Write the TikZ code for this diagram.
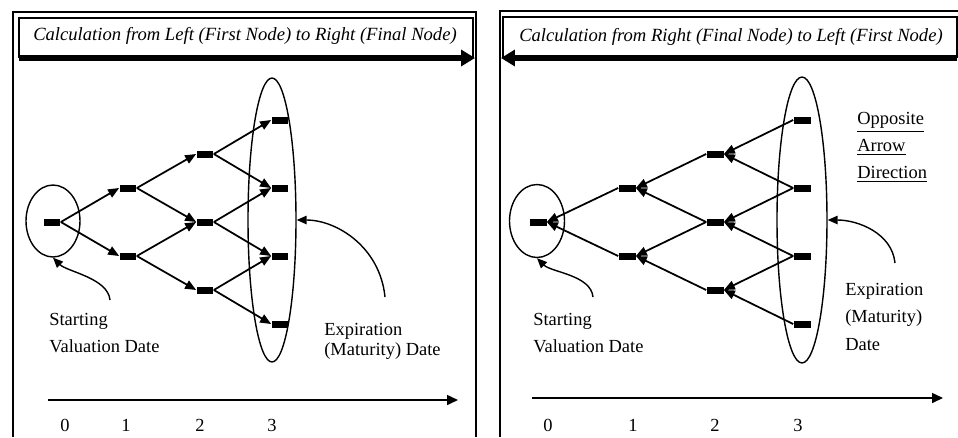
\documentclass[tikz,border=0pt]{standalone}
\usepackage{fontspec}
\setmainfont{Liberation Serif}
\usetikzlibrary{arrows.meta,positioning,shapes.geometric}

\tikzset{
    lattice/.style={fill=black, inner sep=0pt, minimum width=0.34cm, minimum height=0.14cm},
    branch/.style={line width=1pt, -{Triangle[length=2.2mm,width=1.8mm]}},
    pointer/.style={line width=0.8pt, -{Triangle[length=2.0mm,width=1.7mm]}},
    timeline/.style={line width=0.9pt, -{Triangle[length=2.2mm,width=2.0mm]}},
    flowarrow/.style={line width=3pt, -{Triangle[length=2.8mm,width=3.2mm]}},
    ring/.style={draw, ellipse, line width=0.8pt, inner sep=0pt},
    caption/.style={font=\fontsize{10.5pt}{#1}\selectfont, align=left, inner sep=0pt, anchor=north west},
    ticklabel/.style={font=\fontsize{10.5pt}{12pt}\selectfont, inner sep=0pt},
    headline/.style={font=\itshape\fontsize{10.6pt}{12pt}\selectfont, inner sep=0pt}
}

\begin{document}
\begin{tikzpicture}[x=0.02cm,y=-0.02cm]
    \useasboundingbox (0,0) rectangle (958,437);

    % frames and title boxes
    \draw[line width=1.2pt] (13,437) -- (13,12) -- (476,12) -- (476,437);
    \draw[line width=0.8pt] (19,58) -- (19,18) -- (473,18) -- (473,58);
    \draw[line width=1.2pt] (958,11) -- (500,11) -- (500,437);
    \draw[line width=0.8pt] (503,58) -- (503,17) -- (957,17) -- (957,58);

    \coordinate (lflow0) at (19,58);
    \coordinate (lflow1) at (475,58);
    \coordinate (rflow0) at (957,58);
    \coordinate (rflow1) at (501,58);
    \draw[flowarrow] (lflow0) -- (lflow1);
    \draw[flowarrow] (rflow0) -- (rflow1);

    \node[headline] (ltitle) at (245,36) {Calculation from Left (First Node) to Right (Final Node)};
    \node[headline] (rtitle) at (731,37) {Calculation from Right (Final Node) to Left (First Node)};

    % left tree
    \node[lattice] (l0)  at (52,222) {};
    \node[lattice] (l1u) at (128,188) {};
    \node[lattice] (l1d) at (128,256) {};
    \node[lattice] (l2u) at (205,154) {};
    \node[lattice] (l2m) at (205,222) {};
    \node[lattice] (l2d) at (205,290) {};
    \node[lattice] (l3a) at (280,120) {};
    \node[lattice] (l3b) at (280,188) {};
    \node[lattice] (l3c) at (280,256) {};
    \node[lattice] (l3d) at (280,324) {};

    \foreach \a/\b in {l0/l1u, l0/l1d, l1u/l2u, l1u/l2m, l1d/l2m, l1d/l2d,
                       l2u/l3a, l2u/l3b, l2m/l3b, l2m/l3c, l2d/l3c, l2d/l3d}
        \draw[branch] (\a.east) -- (\b.west);

    \node[ring, minimum width=1.08cm, minimum height=1.44cm] (lroot) at (53,221) {};
    \node[ring, minimum width=0.96cm, minimum height=5.68cm] (lexp) at (272,220) {};

    % right tree
    \node[lattice] (r0)  at (538,222) {};
    \node[lattice] (r1u) at (627,188) {};
    \node[lattice] (r1d) at (627,256) {};
    \node[lattice] (r2u) at (715,154) {};
    \node[lattice] (r2m) at (715,222) {};
    \node[lattice] (r2d) at (715,290) {};
    \node[lattice] (r3a) at (802,120) {};
    \node[lattice] (r3b) at (802,188) {};
    \node[lattice] (r3c) at (802,256) {};
    \node[lattice] (r3d) at (802,324) {};

    \foreach \a/\b in {r0/r1u, r0/r1d, r1u/r2u, r1u/r2m, r1d/r2m, r1d/r2d,
                       r2u/r3a, r2u/r3b, r2m/r3b, r2m/r3c, r2d/r3c, r2d/r3d}
        \draw[branch] (\b.west) -- (\a.east);

    \node[ring, minimum width=1.1cm, minimum height=1.46cm] (rroot) at (537,221) {};
    \node[ring, minimum width=1.0cm, minimum height=5.72cm] (rexp) at (802,220) {};

    % labels
    \node[caption=15.3pt] (lstart) at (49,313) {Starting\\Valuation Date};
    \node[caption=11.3pt] (lexptext) at (324,323) {Expiration\\(Maturity) Date};
    \node[caption=15.3pt] (rstart) at (533,313) {Starting\\Valuation Date};
    \node[caption=15.6pt] (rexptext) at (845,283) {Expiration\\(Maturity)\\Date};
    \node[caption=15.3pt] (rnote) at (857,112) {\underline{Opposite}\\\underline{Arrow}\\\underline{Direction}};

    % curved pointers
    \coordinate (lstartfoot) at (110,300);
    \coordinate (lexpfoot) at (385,297);
    \coordinate (rstartfoot) at (593,297);
    \coordinate (rexpfoot) at (895,263);
    \draw[pointer] (lstartfoot) .. controls +(-2,-22) and +(14,14) .. (lroot.south);
    \draw[pointer] (lexpfoot) .. controls +(-5,-50) and +(40,0) .. (lexp.east);
    \draw[pointer] (rstartfoot) .. controls +(-2,-22) and +(14,14) .. (rroot.south);
    \draw[pointer] (rexpfoot) .. controls +(-3,-30) and +(30,0) .. (rexp.east);

    % time axes
    \coordinate (laxis0) at (48,400);
    \coordinate (laxis1) at (458,400);
    \coordinate (raxis0) at (532,398);
    \coordinate (raxis1) at (943,398);
    \draw[timeline] (laxis0) -- (laxis1);
    \draw[timeline] (raxis0) -- (raxis1);

    \node[ticklabel] (lt0) at (65,425) {0};
    \node[ticklabel] (lt1) at (126,425) {1};
    \node[ticklabel] (lt2) at (200,425) {2};
    \node[ticklabel] (lt3) at (272,425) {3};
    \node[ticklabel] (rt0) at (548,425) {0};
    \node[ticklabel] (rt1) at (633,425) {1};
    \node[ticklabel] (rt2) at (715,425) {2};
    \node[ticklabel] (rt3) at (798,425) {3};

\end{tikzpicture}
\end{document}
